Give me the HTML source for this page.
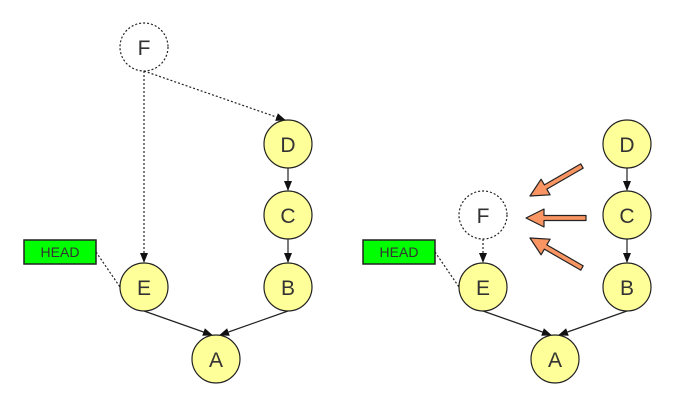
<!DOCTYPE html>
<html><head><meta charset="utf-8"><style>
html,body{margin:0;padding:0;background:#fff;}
svg{display:block;}
text{font-family:"Liberation Sans",sans-serif;fill:#333;}
</style></head><body>
<svg width="673" height="409" viewBox="0 0 673 409" xmlns="http://www.w3.org/2000/svg">
<defs>
<marker id="ah" markerWidth="10" markerHeight="10" refX="9" refY="5" orient="auto" markerUnits="userSpaceOnUse">
<path d="M0,1 L10,5 L0,9 Z" fill="#111"/>
</marker>
<g id="oa"><path d="M0,0 L18,-9 L18,-2.5 L60,-2.5 L60,2.5 L18,2.5 L18,9 Z" fill="#f99562" stroke="#222" stroke-width="1.2" stroke-linejoin="round"/></g>
</defs>
<g stroke="#222" stroke-width="1.2" fill="none">
<!-- left -->
<line x1="144" y1="71" x2="144" y2="262" stroke-dasharray="2,2" marker-end="url(#ah)"/>
<line x1="144" y1="71" x2="285" y2="120" stroke-dasharray="2,2" marker-end="url(#ah)"/>
<line x1="288" y1="168" x2="288" y2="190" marker-end="url(#ah)"/>
<line x1="288" y1="239" x2="288" y2="262" marker-end="url(#ah)"/>
<line x1="144" y1="311" x2="212" y2="335" marker-end="url(#ah)"/>
<line x1="288" y1="311" x2="220" y2="335" marker-end="url(#ah)"/>
<line x1="96" y1="252" x2="120" y2="287" stroke-dasharray="2,2"/>
<!-- right -->
<line x1="483" y1="239" x2="483" y2="262" stroke-dasharray="2,2" marker-end="url(#ah)"/>
<line x1="627" y1="168" x2="627" y2="190" marker-end="url(#ah)"/>
<line x1="627" y1="239" x2="627" y2="262" marker-end="url(#ah)"/>
<line x1="483" y1="311" x2="551" y2="335" marker-end="url(#ah)"/>
<line x1="627" y1="311" x2="559" y2="335" marker-end="url(#ah)"/>
<line x1="435" y1="252" x2="459" y2="287" stroke-dasharray="2,2"/>
</g>
<g stroke="#222" stroke-width="1.2">
<circle cx="144" cy="47" r="24" fill="#fff" stroke-dasharray="2,2"/>
<circle cx="288" cy="144" r="24" fill="#ffff99"/>
<circle cx="288" cy="215" r="24" fill="#ffff99"/>
<circle cx="288" cy="287" r="24" fill="#ffff99"/>
<circle cx="144" cy="287" r="24" fill="#ffff99"/>
<circle cx="216" cy="359" r="24" fill="#ffff99"/>
<rect x="24" y="240" width="72" height="24" fill="#00ff00" stroke-width="1.5"/>
<circle cx="483" cy="215" r="24" fill="#fff" stroke-dasharray="2,2"/>
<circle cx="627" cy="144" r="24" fill="#ffff99"/>
<circle cx="627" cy="215" r="24" fill="#ffff99"/>
<circle cx="627" cy="287" r="24" fill="#ffff99"/>
<circle cx="483" cy="287" r="24" fill="#ffff99"/>
<circle cx="555" cy="359" r="24" fill="#ffff99"/>
<rect x="363" y="240" width="72" height="24" fill="#00ff00" stroke-width="1.5"/>
</g>
<use href="#oa" transform="translate(526,218)"/>
<use href="#oa" transform="translate(530,196) rotate(-30)"/>
<use href="#oa" transform="translate(530,238) rotate(30)"/>
<g font-size="21" text-anchor="middle">
<text x="144" y="55">F</text>
<text x="288" y="152">D</text>
<text x="288" y="223">C</text>
<text x="288" y="295">B</text>
<text x="144" y="295">E</text>
<text x="216" y="367">A</text>
<text x="483" y="223">F</text>
<text x="627" y="152">D</text>
<text x="627" y="223">C</text>
<text x="627" y="295">B</text>
<text x="483" y="295">E</text>
<text x="555" y="367">A</text>
</g>
<g font-size="14" text-anchor="middle">
<text x="60" y="257">HEAD</text>
<text x="399" y="257">HEAD</text>
</g>
</svg>
</body></html>
